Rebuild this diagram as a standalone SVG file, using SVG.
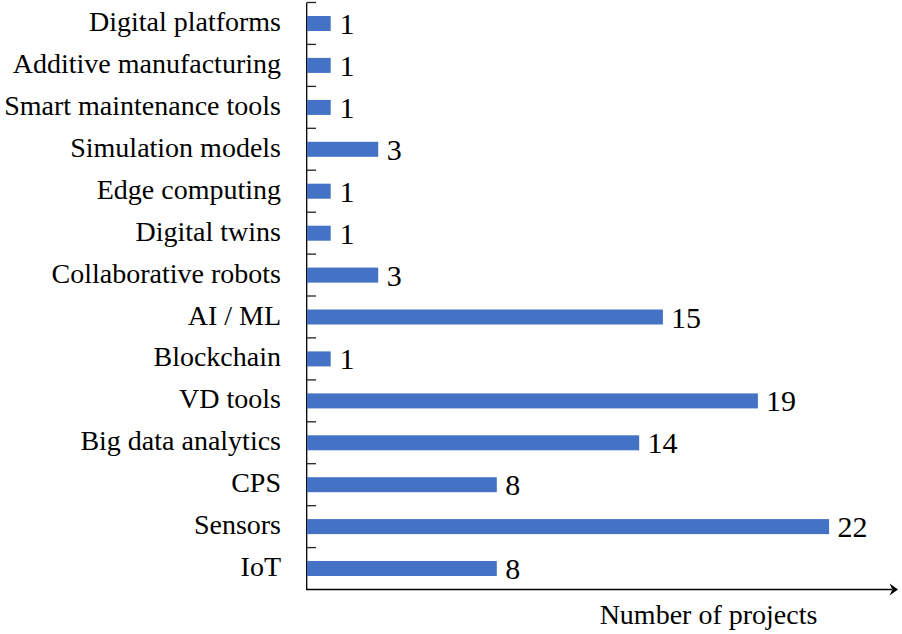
<svg xmlns="http://www.w3.org/2000/svg" width="902" height="634" viewBox="0 0 902 634">
<style>
text{font-family:"Liberation Serif","Times New Roman",serif;font-size:28px;fill:#000}
.cat{text-anchor:end}
.val{font-size:30px}
.bar{fill:#4472C4}
.ax{stroke:#000;stroke-width:1.3;fill:none}
.tk{stroke:#222;stroke-width:1.3}
</style>
<rect width="902" height="634" fill="#fff"/>
<g id="axes">
<line class="ax" x1="306.7" y1="2.5" x2="306.7" y2="589.5"/>
<line class="ax" x1="306" y1="589.5" x2="892" y2="589.5"/>
<path d="M898,589.5 L889.5,583.5 L892.5,589.5 L889.5,595.5 Z" fill="#000"/>
<g class="tk">
<line x1="307" y1="2.5" x2="316" y2="2.5"/>
<line x1="307" y1="44.4" x2="316" y2="44.4"/>
<line x1="307" y1="86.4" x2="316" y2="86.4"/>
<line x1="307" y1="128.3" x2="316" y2="128.3"/>
<line x1="307" y1="170.2" x2="316" y2="170.2"/>
<line x1="307" y1="212.2" x2="316" y2="212.2"/>
<line x1="307" y1="254.1" x2="316" y2="254.1"/>
<line x1="307" y1="296" x2="316" y2="296"/>
<line x1="307" y1="337.9" x2="316" y2="337.9"/>
<line x1="307" y1="379.9" x2="316" y2="379.9"/>
<line x1="307" y1="421.8" x2="316" y2="421.8"/>
<line x1="307" y1="463.7" x2="316" y2="463.7"/>
<line x1="307" y1="505.7" x2="316" y2="505.7"/>
<line x1="307" y1="547.6" x2="316" y2="547.6"/>
</g>
<text x="708.5" y="624.3" text-anchor="middle">Number of projects</text>
</g>
<g id="row-digital-platforms"><text class="cat" x="281" y="31">Digital platforms</text><rect class="bar" x="307" y="16" width="23.7" height="15"/><text class="val" x="339.5" y="34">1</text></g>
<g id="row-additive-manufacturing"><text class="cat" x="281" y="73">Additive manufacturing</text><rect class="bar" x="307" y="57.9" width="23.7" height="15"/><text class="val" x="339.5" y="75.9">1</text></g>
<g id="row-smart-maintenance-tools"><text class="cat" x="281" y="114.9">Smart maintenance tools</text><rect class="bar" x="307" y="99.9" width="23.7" height="15"/><text class="val" x="339.5" y="117.9">1</text></g>
<g id="row-simulation-models"><text class="cat" x="281" y="156.8">Simulation models</text><rect class="bar" x="307" y="141.8" width="71.2" height="15"/><text class="val" x="386.7" y="159.8">3</text></g>
<g id="row-edge-computing"><text class="cat" x="281" y="198.7">Edge computing</text><rect class="bar" x="307" y="183.7" width="23.7" height="15"/><text class="val" x="339.5" y="201.7">1</text></g>
<g id="row-digital-twins"><text class="cat" x="281" y="240.7">Digital twins</text><rect class="bar" x="307" y="225.7" width="23.7" height="15"/><text class="val" x="339.5" y="243.7">1</text></g>
<g id="row-collaborative-robots"><text class="cat" x="281" y="282.6">Collaborative robots</text><rect class="bar" x="307" y="267.6" width="71.2" height="15"/><text class="val" x="386.7" y="285.6">3</text></g>
<g id="row-ai-ml"><text class="cat" x="281" y="324.5">AI / ML</text><rect class="bar" x="307" y="309.5" width="355.9" height="15"/><text class="val" x="671" y="327.5">15</text></g>
<g id="row-blockchain"><text class="cat" x="281" y="366.4">Blockchain</text><rect class="bar" x="307" y="351.4" width="23.7" height="15"/><text class="val" x="339.5" y="369.4">1</text></g>
<g id="row-vd-tools"><text class="cat" x="281" y="408.4">VD tools</text><rect class="bar" x="307" y="393.4" width="450.9" height="15"/><text class="val" x="766" y="411.4">19</text></g>
<g id="row-big-data-analytics"><text class="cat" x="281" y="450.3">Big data analytics</text><rect class="bar" x="307" y="435.3" width="332.2" height="15"/><text class="val" x="647.5" y="453.3">14</text></g>
<g id="row-cps"><text class="cat" x="281" y="492.2">CPS</text><rect class="bar" x="307" y="477.2" width="189.8" height="15"/><text class="val" x="505.3" y="495.2">8</text></g>
<g id="row-sensors"><text class="cat" x="281" y="534.1">Sensors</text><rect class="bar" x="307" y="519.1" width="522.1" height="15"/><text class="val" x="837.6" y="537.1">22</text></g>
<g id="row-iot"><text class="cat" x="281" y="576">IoT</text><rect class="bar" x="307" y="561" width="189.8" height="15"/><text class="val" x="505.3" y="579">8</text></g>
</svg>
